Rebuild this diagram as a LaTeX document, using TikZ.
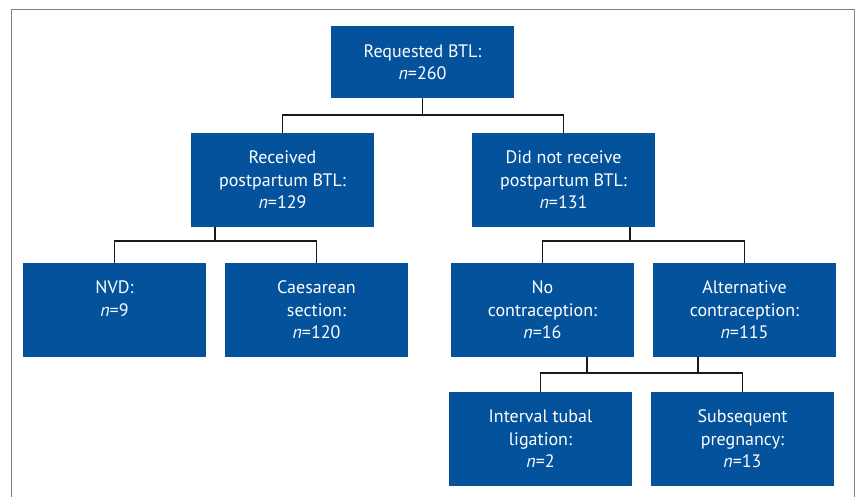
\documentclass[tikz,border=0pt]{standalone}
\usepackage{fontspec}
\setmainfont{PT Sans}
\usepackage{tikz}
\usepackage{xcolor}
\definecolor{boxblue}{RGB}{3,82,155}
\definecolor{framegray}{RGB}{128,128,128}

\begin{document}
\begin{tikzpicture}[x=1pt, y=-1pt,
                    blue_box/.style={rectangle, fill=boxblue, text=white, align=center, minimum width=183pt, minimum height=94pt, inner sep=0pt, font=\fontsize{18}{22.5}\selectfont},
                    top_box/.style={blue_box, minimum height=72pt},
                    link/.style={draw=black!90, line width=1.3pt},
                    frame_line/.style={draw=framegray, line width=1pt}
                ]
                    \useasboundingbox (0,0) rectangle (855,497);
                    \draw[frame_line] (11,497) -- (11,9.5) -- (854,9.5) -- (854,497);

                    \node[top_box] (requested) at (422.5,62) {Requested BTL:\\\textit{n}=260};
                    \node[blue_box] (received) at (282.5,180) {Received\\postpartum BTL:\\\textit{n}=129};
                    \node[blue_box] (notreceived) at (563.5,180) {Did not receive\\postpartum BTL:\\\textit{n}=131};
                    \node[blue_box] (nvd) at (114.5,310) {NVD:\\\textit{n}=9\\~};
                    \node[blue_box] (caesarean) at (316.5,310) {Caesarean\\section:\\\textit{n}=120};
                    \node[blue_box] (nocontra) at (542.5,310) {No\\contraception:\\\textit{n}=16};
                    \node[blue_box] (altcontra) at (744.5,310) {Alternative\\contraception:\\\textit{n}=115};
                    \node[blue_box] (interval) at (540.5,439) {Interval tubal\\ligation:\\\textit{n}=2};
                    \node[blue_box] (pregnancy) at (742.5,439) {Subsequent\\pregnancy:\\\textit{n}=13};

                    \coordinate (split_top) at (422.5,115);
                    \coordinate (split_received) at (215,241);
                    \coordinate (split_notreceived) at (630,241);
                    \coordinate (join_nocontra) at (587,373);
                    \coordinate (join_altcontra) at (698,373);

                    \draw[link] (requested.south) -- (split_top);
                    \draw[link] (received.north) |- (split_top) -| (notreceived.north);
                    \draw[link] (received.south -| split_received) -- (split_received);
                    \draw[link] (nvd.north) |- (split_received) -| (caesarean.north);
                    \draw[link] (notreceived.south -| split_notreceived) -- (split_notreceived);
                    \draw[link] (nocontra.north) |- (split_notreceived) -| (altcontra.north);
                    \draw[link] (nocontra.south -| join_nocontra) -- (join_nocontra);
                    \draw[link] (altcontra.south -| join_altcontra) -- (join_altcontra);
                    \draw[link] (interval.north) |- (join_nocontra) -- (join_altcontra) -| (pregnancy.north);
                \end{tikzpicture}
\end{document}
